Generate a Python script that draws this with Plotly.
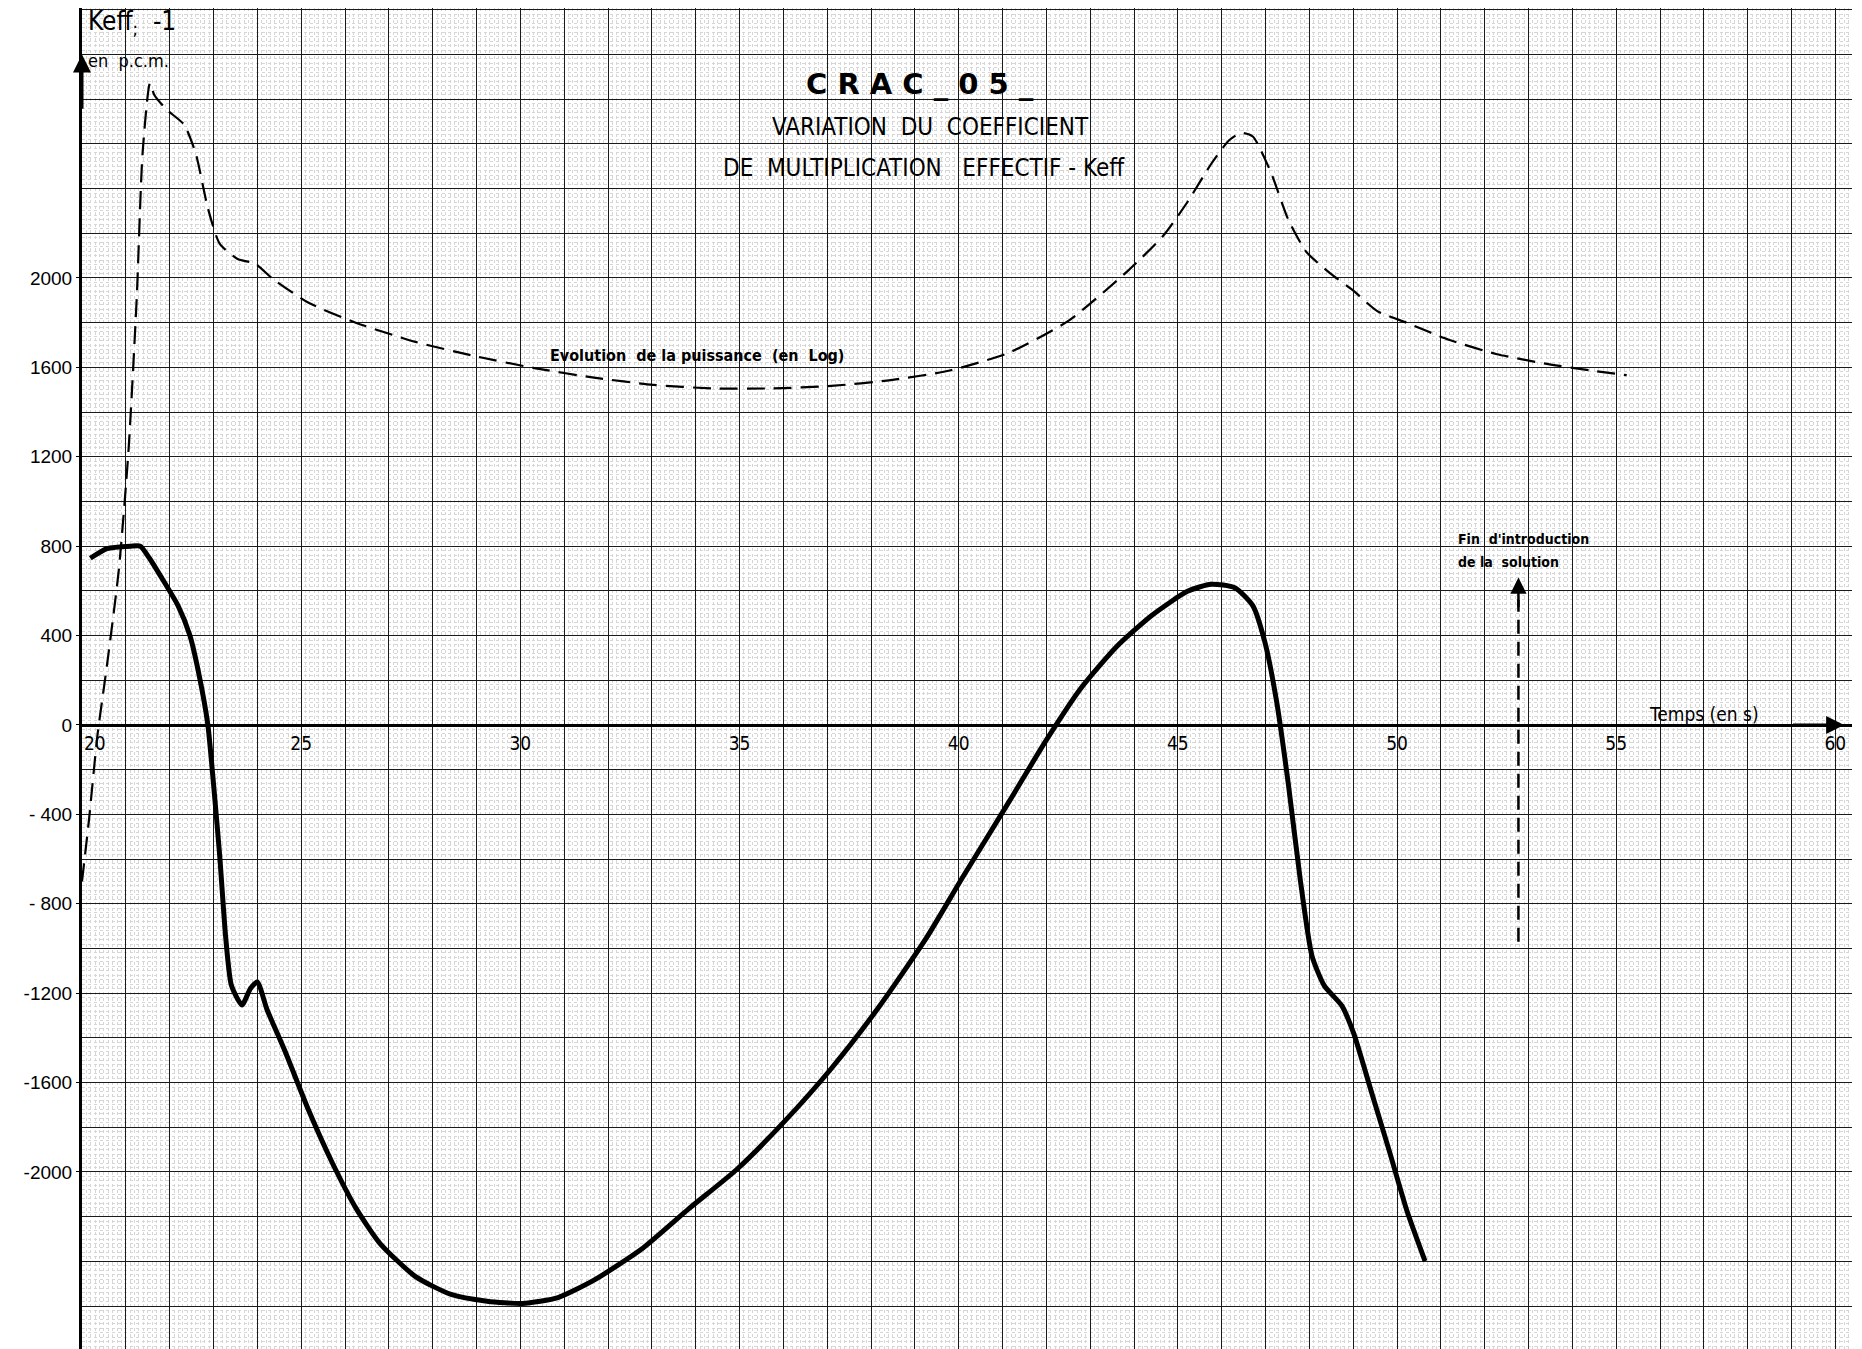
import plotly.graph_objects as go

# ---- data ----
t_keff = [20.19, 20.57, 21.11, 21.33, 21.54, 21.79, 22.19, 22.46, 22.68, 22.87, 23.0, 23.14,
          23.28, 23.41, 23.65, 23.84, 24.0, 24.22, 24.63, 25.17, 25.72, 26.26, 26.8, 27.61,
          28.42, 29.24, 30.05, 30.86, 31.68, 32.76, 33.84, 34.93, 36.01, 37.09, 38.18, 39.26,
          40.07, 41.15, 41.97, 42.78, 43.59, 44.41, 45.22, 45.76, 46.3, 46.71, 46.98, 47.25,
          47.52, 47.79, 48.06, 48.34, 48.74, 49.01, 49.42, 49.83, 50.23, 50.64]
keff = [746, 789, 800, 800, 746, 667, 534, 401, 215, 3, -263, -582,
        -954, -1166, -1253, -1180, -1150, -1273, -1459, -1724, -1963, -2165, -2320, -2468,
        -2548, -2578, -2588, -2562, -2484, -2346, -2165, -1990, -1777, -1538, -1262, -954,
        -688, -343, -77, 162, 348, 491, 598, 630, 614, 534, 375, 109,
        -263, -688, -1033, -1166, -1256, -1379, -1644, -1910, -2176, -2399]

t_power = [20.0, 20.16, 20.35, 20.57, 20.84, 21.06, 21.25, 21.38, 21.55, 21.65, 21.92, 22.33,
           22.6, 22.87, 23.14, 23.55, 23.95, 24.36, 25.17, 26.26, 27.61, 28.97, 30.32, 31.68,
           33.03, 34.38, 35.74, 37.09, 38.45, 39.8, 41.15, 42.51, 43.86, 44.68, 45.22, 45.76,
           46.17, 46.44, 46.71, 47.12, 47.52, 47.93, 48.47, 49.01, 49.55, 50.23, 51.18, 52.26,
           53.35, 54.43, 55.24]
power = [-700, -423, -50, 268, 694, 1225, 1916, 2553, 2872, 2819, 2755, 2686,
         2553, 2314, 2154, 2085, 2064, 1995, 1889, 1799, 1714, 1650, 1597, 1554,
         1522, 1506, 1506, 1517, 1543, 1586, 1666, 1809, 2032, 2192, 2340, 2510,
         2616, 2649, 2633, 2474, 2261, 2117, 2022, 1942, 1852, 1799, 1724, 1660,
         1618, 1586, 1565]

x_tickvals = [20, 25, 30, 35, 40, 45, 50, 55, 60]
x_ticktext = ["\u2002\u2002\u200220", "25", "30", "35", "40", "45", "50", "55", "60"]
y_tickvals = [2000, 1600, 1200, 800, 400, 0, -400, -800, -1200, -1600, -2000]
y_ticktext = ["2000", "1600", "1200", "800", "400", "0", "- 400", "- 800", "-1200", "-1600", "-2000"]

solution_t = 52.77
solution_y = [-970, 560]

X_RANGE = [20, 60.38]
Y_RANGE = [-2792, 3208]

NARROW = "Liberation Sans Narrow, DejaVu Sans Condensed, Arial Narrow, sans-serif"
SANS = "Liberation Sans, Arial, sans-serif"

fig = go.Figure()
# empty trace keeps the base subplot (fine graph-paper grid)
fig.add_trace(go.Scatter(x=[], y=[], xaxis="x", yaxis="y", showlegend=False))

fig.add_trace(go.Scatter(
    x=t_power, y=power, mode="lines", xaxis="x2", yaxis="y2", showlegend=False,
    line=dict(color="black", width=2.2, dash="18px,9px", shape="spline", smoothing=0.6)))
fig.add_trace(go.Scatter(
    x=t_keff, y=keff, mode="lines", xaxis="x2", yaxis="y2", showlegend=False,
    line=dict(color="black", width=5, shape="spline", smoothing=0.6)))
fig.add_trace(go.Scatter(
    x=[solution_t, solution_t], y=solution_y, mode="lines", xaxis="x2", yaxis="y2",
    showlegend=False, line=dict(color="black", width=2.5, dash="14px,8px")))
# hidden overlays carrying the bold 1 s / 200 pcm grid
fig.add_trace(go.Scatter(x=[], y=[], xaxis="x2", yaxis="y3", showlegend=False))
fig.add_trace(go.Scatter(x=[], y=[], xaxis="x3", yaxis="y2", showlegend=False))

x0pos = (0 - Y_RANGE[0]) / (Y_RANGE[1] - Y_RANGE[0])

fig.update_layout(
    width=1862, height=1349,
    margin=dict(l=82, r=10, t=8, b=0),
    paper_bgcolor="white", plot_bgcolor="white",
    showlegend=False,
    xaxis=dict(range=X_RANGE, showticklabels=False, ticks="", zeroline=False,
               showgrid=True, dtick=0.1, tick0=20, gridcolor="#d6d6d6", gridwidth=0.6,
               griddash="dot", showline=False),
    yaxis=dict(range=Y_RANGE, showticklabels=False, ticks="", zeroline=False,
               showgrid=True, dtick=20, tick0=0, gridcolor="#d6d6d6", gridwidth=0.6,
               griddash="dot", showline=False),
    xaxis2=dict(range=X_RANGE, overlaying="x", anchor="free", position=x0pos,
                tickmode="array", tickvals=x_tickvals, ticktext=x_ticktext,
                tickfont=dict(family=NARROW, size=19, color="black"), ticks="",
                showline=True, linecolor="black", linewidth=3, zeroline=False,
                showgrid=False,
                minor=dict(dtick=0.5, tick0=20, showgrid=True, gridcolor="#444444",
                           gridwidth=1.0, griddash="dot"),
                ),
    yaxis2=dict(range=Y_RANGE, overlaying="y", side="left", anchor="x2",
                tickmode="array", tickvals=y_tickvals, ticktext=y_ticktext,
                tickfont=dict(family=SANS, size=19, color="black"), ticks="outside",
                ticklen=3, tickcolor="black",
                showline=True, linecolor="black", linewidth=3, zeroline=False,
                showgrid=False,
                minor=dict(dtick=100, tick0=0, showgrid=True, gridcolor="#444444",
                           gridwidth=1.0, griddash="dot"),
                ),
    yaxis3=dict(range=Y_RANGE, overlaying="y", showticklabels=False, ticks="",
                zeroline=False, showgrid=True, dtick=200, tick0=0,
                gridcolor="#1a1a1a", gridwidth=1.3, showline=False),
    xaxis3=dict(range=X_RANGE, overlaying="x", showticklabels=False, ticks="",
                zeroline=False, showgrid=True, dtick=1, tick0=20,
                gridcolor="#1a1a1a", gridwidth=1.3, showline=False),
)

def ann(text, x, y, size, family=NARROW, xanchor="center", bold=False):
    fig.add_annotation(text=f"<b>{text}</b>" if bold else text, x=x, y=y, xref="x2", yref="y2",
                       showarrow=False, xanchor=xanchor, yanchor="middle",
                       font=dict(family=family, size=size, color="black"))

ann("C R A C _ 0 5 _", 39.12, 2868, 29, family="DejaVu Sans, sans-serif", bold=True)
ann("VARIATION  DU  COEFFICIENT", 39.35, 2676, 24)
ann("DE  MULTIPLICATION   EFFECTIF - Keff", 39.21, 2492, 24)
ann("Keff<sub>;</sub>  -1", 20.08, 3141, 26, xanchor="left")
ann("en  p.c.m.", 20.1, 2975, 18, xanchor="left")
ann("Evolution  de la puissance  (en  Log)", 30.63, 1655, 16, xanchor="left", bold=True)
ann("Fin  d'introduction", 51.35, 832, 14, xanchor="left", bold=True)
ann("de la  solution", 51.35, 729, 14, xanchor="left", bold=True)
ann("Temps (en s)", 55.71, 48, 19, xanchor="left")

# arrow heads
def arrow(x, y, ax, ay, width=2.5, size=1.2):
    fig.add_annotation(x=x, y=y, ax=ax, ay=ay, xref="x2", yref="y2", axref="x2", ayref="y2",
                       text="", showarrow=True, arrowhead=2, arrowsize=size,
                       arrowwidth=width, arrowcolor="black")

arrow(20, 3000, 20, 2750, width=3, size=1.2)
arrow(60.2, 0, 59.0, 0, width=3, size=1.2)
arrow(solution_t, 660, solution_t, 520, width=2.5, size=1.3)

fig.write_html("out.html")
